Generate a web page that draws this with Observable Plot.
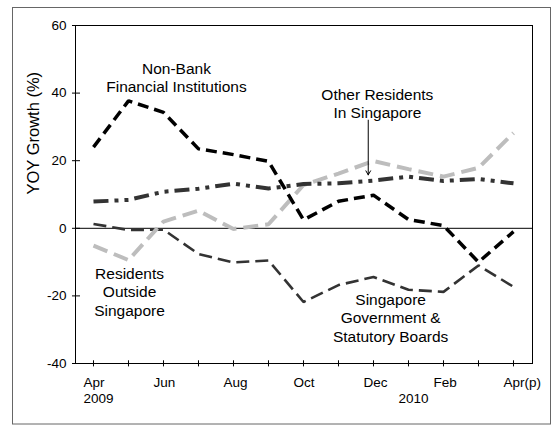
<!DOCTYPE html>
<html><head><meta charset="utf-8">
<script src="https://cdn.jsdelivr.net/npm/d3@7"></script>
<script src="https://cdn.jsdelivr.net/npm/@observablehq/plot@0.6"></script>
<style>body{margin:0;background:#fff;}</style>
</head><body><div id="chart"></div>
<script>
// Months Apr 2009 .. Apr 2010 (p)
const months = ["Apr","May","Jun","Jul","Aug","Sep","Oct","Nov","Dec","Jan","Feb","Mar","Apr(p)"];
const monthTickLabels = ["Apr","","Jun","","Aug","","Oct","","Dec","","Feb","","Apr(p)"];
const yearTickLabels = ["2009","","","","","","","","","2010","","",""];
const yTicks = [-40, -20, 0, 20, 40, 60];

// YOY growth (%)
const nonBank    = [24.0, 37.7, 34.3, 23.5, 21.8, 19.8, 2.5, 8.0, 9.8, 2.6, 0.8, -10.0, -1.0];
const otherRes   = [7.9, 8.4, 10.8, 11.7, 13.2, 11.8, 13.1, 13.3, 14.1, 15.3, 14.0, 14.6, 13.3];
const resOutside = [-5.1, -9.4, 2.0, 5.2, -0.2, 1.2, 12.8, 16.2, 19.9, 17.5, 15.3, 17.9, 28.2];
const govt       = [1.3, -0.5, -0.4, -7.6, -10.1, -9.5, -21.8, -16.8, -14.4, -18.2, -18.8, -11.0, -17.3];

const labelTexts = ["Non-Bank\nFinancial Institutions", "Other Residents\nIn Singapore", "Residents\nOutside\nSingapore", "Singapore\nGovernment &\nStatutory Boards"];
// annotation anchors in data space (month index, %)
const labelAt = [[2.37, 44.7], [8.11, 37.0], [1.03, -18.7], [8.49, -26.4]];
const arrowAt = {x: 7.85, from: 32, to: 15.8};

const toRows = vals => vals.map((v, i) => ({i, v, m: months[i]}));
const xTicks = months.map((_, i) => i);
const lineStyle = {strokeLinecap: "butt", strokeLinejoin: "miter"};

const chart = Plot.plot({
  width: 553, height: 426,
  marginLeft: 75, marginRight: 21, marginTop: 25, marginBottom: 63,
  style: {fontFamily: "'Liberation Sans', Arial, sans-serif", fontSize: "13px", background: "#fff", color: "#000"},
  x: {type: "linear", domain: [-0.514, 12.543], axis: null},
  y: {domain: [-40, 60], axis: null},
  marks: [
    Plot.frame({stroke: "#000", strokeWidth: 1}),
    Plot.ruleY([0], {stroke: "#000", strokeWidth: 1}),
    // y ticks crossing the axis
    Plot.ruleY(yTicks, {x1: -0.6, x2: -0.371, stroke: "#000"}),
    Plot.text(yTicks, {y: d => d, text: d => String(d), frameAnchor: "left", dx: -9, textAnchor: "end", fontSize: 13.5}),
    // x ticks crossing the axis
    Plot.ruleX(xTicks, {x: d => d, y1: -41, y2: -39.2, stroke: "#000"}),
    Plot.text(xTicks, {x: d => d, text: d => monthTickLabels[d], frameAnchor: "bottom", dy: 14, dx: -10, textAnchor: "start", lineAnchor: "top", fontSize: 13.5}),
    Plot.text(xTicks, {x: d => d, text: d => yearTickLabels[d], frameAnchor: "bottom", dy: 30, dx: -10, textAnchor: "start", lineAnchor: "top", fontSize: 13.5}),
    Plot.text(["YOY Growth (%)"], {frameAnchor: "left", rotate: -90, dx: -42, fontSize: 16.5}),
    // series
    Plot.line(toRows(govt), {x: "i", y: "v", stroke: "#333", strokeWidth: 2.6, strokeDasharray: "13,6", ...lineStyle}),
    Plot.line(toRows(resOutside), {x: "i", y: "v", stroke: "#bdbdbd", strokeWidth: 4, strokeDasharray: "15,7", ...lineStyle}),
    Plot.line(toRows(otherRes), {x: "i", y: "v", stroke: "#333", strokeWidth: 4, strokeDasharray: "15,6,4,6,4,6", ...lineStyle}),
    Plot.line(toRows(nonBank), {x: "i", y: "v", stroke: "#000", strokeWidth: 3.5, strokeDasharray: "11,6", ...lineStyle}),
    // annotations
    Plot.text(labelTexts, {x: (d, i) => labelAt[i][0], y: (d, i) => labelAt[i][1], text: d => d, fontSize: 15.5, lineHeight: 1.2, textAnchor: "middle", letterSpacing: "-0.4px"}),
    Plot.arrow([arrowAt], {x1: d => d.x, x2: d => d.x, y1: d => d.from, y2: d => d.to, stroke: "#000", strokeWidth: 1, headLength: 7})
  ]
});

d3.select(chart).append("rect")
  .attr("x", 12.5).attr("y", 7.5).attr("width", 538).attr("height", 416.5)
  .attr("fill", "none").attr("stroke", "#666").attr("stroke-width", 1);

document.getElementById("chart").appendChild(chart);
</script>
</body></html>
